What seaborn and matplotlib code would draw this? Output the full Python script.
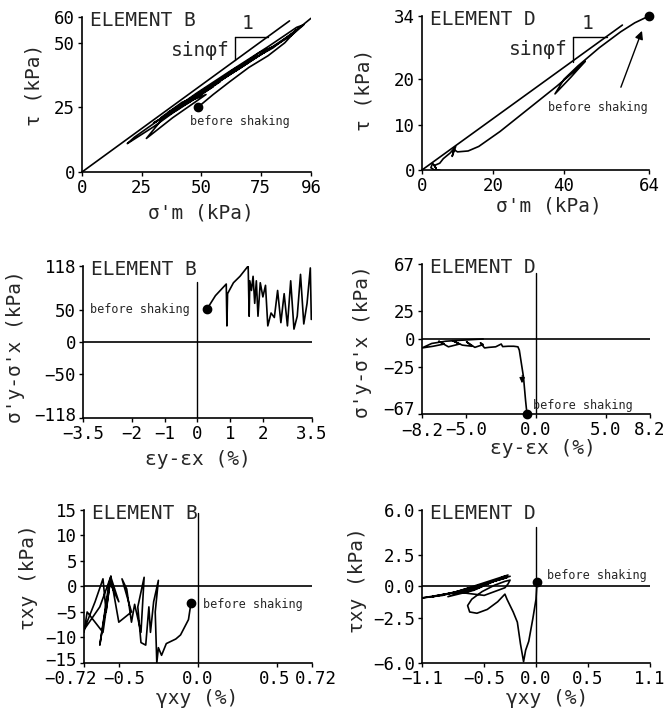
import matplotlib
matplotlib.use('Agg')
import matplotlib.pyplot as plt
import matplotlib.transforms as mtransforms
import seaborn as sns

sns.set_theme(style='ticks')
plt.rcParams['font.family'] = ['DejaVu Sans Mono', 'DejaVu Sans']

# ---- data ----
# element B, stress path (sigma'm, tau)
b_fail_x = [0, 87]
b_fail_y = [0, 58.5]
b_path_x = [48.5, 55, 62, 70, 78, 85, 90, 88, 75, 60, 45, 32, 22, 19, 30, 45, 60, 75, 88,
            93, 90, 78, 62, 48, 35, 27, 38, 52, 44, 30, 40, 55, 48, 36, 50, 42, 33, 45, 58,
            52, 40, 47, 60, 70, 64, 55, 66, 80, 74, 68, 80, 92, 96]
b_path_y = [25, 30, 35, 40.5, 45, 50, 55, 53.5, 45.5, 37, 28, 20, 13.5, 11, 17.5, 27.5, 36.5,
            45.5, 53, 57, 56, 48.5, 39, 30.5, 22, 13, 21, 30, 27, 19, 24, 33, 30, 23, 30,
            27, 21, 27, 35, 32.5, 25, 28.5, 36.5, 42.5, 40, 34, 40, 48.5, 46, 42, 48, 56.5,
            59.5]
b_start = (48.5, 25.2)

# element D, stress path
d_fail_x = [0, 56.5]
d_fail_y = [0, 32]
d_path_x = [64, 60, 56, 50, 44, 40, 37.5, 42, 46, 44, 38, 30, 22, 16, 13, 10, 9, 8.5, 9.5,
            8, 6, 5, 3.5, 4, 3, 2.5, 3.5, 5]
d_path_y = [34, 32.5, 30.5, 27, 23, 20, 16.8, 20.5, 24, 22.5, 18.5, 13.5, 8.5, 5.2, 4.2,
            4.0, 4.5, 3.0, 5.2, 3.8, 2.5, 1.5, 1.0, 0.3, 1.5, 0.5, 0, 0]
d_start = (64, 34)

# element B, deviator stress vs deviator strain
b_dev_x = [0.29, 0.55, 0.88, 0.9, 0.92, 1.1, 1.3, 1.55, 1.58, 1.6, 1.65, 1.7, 1.75, 1.8,
           1.85, 1.92, 2.0, 2.08, 2.15, 2.25, 2.35, 2.45, 2.55, 2.65, 2.75, 2.85, 2.95,
           3.05, 3.15, 3.25, 3.35, 3.45, 3.48]
b_dev_y = [51, 72, 90, 25, 75, 92, 102, 118, 40, 95, 80, 102, 60, 95, 40, 92, 70, 88, 25,
           45, 38, 80, 30, 75, 25, 95, 20, 40, 105, 28, 60, 115, 35]
b_dev_start = (0.29, 51)

# element D, deviator stress vs deviator strain
d_dev_x = [-0.65, -0.75, -0.9, -1.05, -1.2, -1.3, -1.6, -2.0, -2.4, -2.5, -2.9, -3.4, -3.7,
           -4.0, -3.8, -4.4, -5.0, -4.6, -5.3, -6.0, -5.5, -6.3, -7.0, -6.6, -7.4, -8.2,
           -7.5, -6.5, -5.5, -4.5, -3.8]
d_dev_y = [-67, -55, -34, -22, -10, -7, -6.5, -6.5, -6.8, -4.5, -7, -7.5, -8.0, -3.5, -5,
           -7.5, -2.5, -6.5, -5.5, -1.5, -4.5, -7, -2, -4.5, -6.5, -8.0, -4, -2, -1.2,
           -0.5, 0]
d_dev_start = (-0.65, -67)

# element B, shear stress vs shear strain
b_sh_x = [-0.044, -0.06, -0.11, -0.14, -0.2, -0.23, -0.25, -0.26, -0.27, -0.25, -0.28,
          -0.3, -0.31, -0.33, -0.36, -0.38, -0.34, -0.36, -0.4, -0.42, -0.45, -0.48, -0.42,
          -0.5, -0.55, -0.5, -0.56, -0.62, -0.55, -0.58, -0.6, -0.65, -0.72, -0.62, -0.55,
          -0.6, -0.7, -0.72]
b_sh_y = [-3.2, -6.5, -9.5, -10.3, -11.2, -13.5, -12, -15, -5, 1.2, -3, -9, -4, -11.5, -11,
          -4, 1.8, -9, -3.5, -7, -0.5, 1.5, -5, -7, 1.8, -3, 1, -11.5, 2, -5, 1.5, -3, -8.5,
          -4, 2, -9, -5, -9]
b_sh_start = (-0.044, -3.2)

# element D, shear stress vs shear strain
d_sh_x = [0.01, 0.0, -0.03, -0.07, -0.1, -0.12, -0.15, -0.18, -0.22, -0.28, -0.3, -0.37,
          -0.47, -0.57, -0.64, -0.66, -0.62, -0.52, -0.4, -0.3, -0.25, -0.27, -0.3, -0.5,
          -0.7, -0.55, -0.3, -0.6, -0.85, -0.5, -0.28, -0.7, -1.0, -0.6, -0.27, -0.8, -1.1,
          -0.9, -0.5, -0.25]
d_sh_y = [0.35, -1.0, -2.5, -4.3, -5.0, -5.9, -4.5, -2.8, -2.0, -1.0, -0.6, -1.2, -1.8,
          -2.1, -2.0, -1.5, -1.0, -0.4, 0.1, 0.4, 0.5, 0.2, -0.1, -0.7, -0.5, -0.1, 0.8,
          -0.3, -0.8, 0.2, 0.7, -0.3, -0.8, -0.2, 0.9, -0.5, -0.9, -0.7, 0.2, 0.8]
d_sh_start = (0.01, 0.35)

# ticks
p1_xt = [0, 25, 50, 75, 96]
p1_yt = [0, 25, 50, 60]
p2_xt = [0, 20, 40, 64]
p2_yt = [0, 10, 20, 34]
p3_xt = [-3.5, -2, -1, 0, 1, 2, 3.5]
p3_xl = ['−3.5', '−2', '−1', '0', '1', '2', '3.5']
p3_yt = [-118, -50, 0, 50, 118]
p4_xt = [-8.2, -5.0, 0.0, 5.0, 8.2]
p4_xl = ['−8.2', '−5.0', '0.0', '5.0', '8.2']
p4_yt = [-67, -25, 0, 25, 67]
p5_xt = [-0.72, -0.5, 0.0, 0.5, 0.72]
p5_xl = ['−0.72', '−0.5', '0.0', '0.5', '0.72']
p5_yt = [-15, -10, -5, 0, 5, 10, 15]
p6_xt = [-1.1, -0.5, 0.0, 0.5, 1.1]
p6_xl = ['−1.1', '−0.5', '0.0', '0.5', '1.1']
p6_yt = [-6.0, -2.5, 0.0, 2.5, 6.0]
p6_yl = ['−6.0', '−2.5', '0.0', '2.5', '6.0']

fig = plt.figure(figsize=(6.67, 7.24), dpi=100)
rects = [[0.1229, 0.7624, 0.3433, 0.2141], [0.6327, 0.7652, 0.3403, 0.2127],
         [0.1244, 0.4227, 0.3433, 0.2099], [0.6327, 0.4282, 0.3418, 0.2072],
         [0.1259, 0.0843, 0.3418, 0.2113], [0.6327, 0.0843, 0.3418, 0.2113]]
axs = [fig.add_axes(r) for r in rects]

LW = 1.2
TICK_FS = 12.5
LAB_FS = 14


def path(ax, x, y):
    sns.lineplot(x=x, y=y, sort=False, estimator=None, color='black', lw=LW, ax=ax)


def start(ax, pt):
    ax.plot([pt[0]], [pt[1]], 'o', color='black', ms=6, zorder=5, clip_on=False)


def style(ax, xlim, ylim, xt, yt, xl=None, yl=None):
    ax.set_xlim(xlim)
    ax.set_ylim(ylim)
    ax.set_xticks(xt)
    ax.set_yticks(yt)
    if xl is not None:
        ax.set_xticklabels(xl)
    if yl is not None:
        ax.set_yticklabels(yl)
    sns.despine(ax=ax)
    for s in ['left', 'bottom']:
        ax.spines[s].set_linewidth(1.2)
        ax.spines[s].set_color('black')
    ax.tick_params(direction='out', length=3, width=1, labelsize=TICK_FS, pad=2, colors='black')


def labels(ax, xlab, ylab, xpos, ypos):
    ax.set_xlabel(xlab, fontsize=LAB_FS)
    ax.set_ylabel(ylab, fontsize=LAB_FS)
    ax.xaxis.set_label_coords(*xpos)
    ax.yaxis.set_label_coords(*ypos)


def element(ax, name):
    ax.text(0.035, 0.975, name, transform=ax.transAxes, fontsize=LAB_FS, va='center', ha='left')


def nudge(lab, dx, dy):
    lab.set_transform(lab.get_transform()
                      + mtransforms.ScaledTranslation(dx / 100, dy / 100, fig.dpi_scale_trans))


# ---- panel 1 ----
ax = axs[0]
path(ax, b_fail_x, b_fail_y)
path(ax, b_path_x, b_path_y)
start(ax, b_start)
ax.plot([64.1, 78], [52.3, 52.3], color='black', lw=1)
ax.plot([64.1, 64.1], [52.3, 43.4], color='black', lw=1)
ax.text(69.6, 57.6, '1', fontsize=LAB_FS, ha='center', va='center')
ax.text(62, 47.2, 'sinφf', fontsize=LAB_FS, ha='right', va='center')
ax.text(45.3, 19.5, 'before shaking', fontsize=8.5, ha='left', va='center')
style(ax, (0, 96), (0, 60), p1_xt, p1_yt)
labels(ax, "σ'm (kPa)", 'τ (kPa)', (0.52, -0.2), (-0.17, 0.56))
element(ax, 'ELEMENT B')

# ---- panel 2 ----
ax = axs[1]
path(ax, d_fail_x, d_fail_y)
path(ax, d_path_x, d_path_y)
start(ax, d_start)
ax.plot([42.6, 52.1], [29.4, 29.4], color='black', lw=1)
ax.plot([42.6, 42.6], [29.4, 23.9], color='black', lw=1)
ax.text(46.8, 32.4, '1', fontsize=LAB_FS, ha='center', va='center')
ax.text(41.2, 26.5, 'sinφf', fontsize=LAB_FS, ha='right', va='center')
ax.text(35.5, 13.7, 'before shaking', fontsize=8.5, ha='left', va='center')
ax.annotate('', xy=(62.3, 31.3), xytext=(55.8, 17.7),
            arrowprops=dict(arrowstyle='-|>', color='black', lw=1))
style(ax, (0, 64), (0, 34), p2_xt, p2_yt)
labels(ax, "σ'm (kPa)", 'τ (kPa)', (0.56, -0.17), (-0.215, 0.52))
element(ax, 'ELEMENT D')

# ---- panel 3 ----
ax = axs[2]
ax.axhline(0, color='black', lw=LW)
ax.plot([0, 0], [-118, 93], color='black', lw=1)
path(ax, b_dev_x, b_dev_y)
start(ax, b_dev_start)
ax.text(-0.23, 51, 'before shaking', fontsize=8.5, ha='right', va='center')
style(ax, (-3.5, 3.5), (-118, 118), p3_xt, p3_yt, xl=p3_xl)
labels(ax, 'εy-εx (%)', "σ'y-σ'x (kPa)", (0.5, -0.21), (-0.253, 0.47))
element(ax, 'ELEMENT B')
nudge(ax.get_yticklabels()[0], 0, 4)

# ---- panel 4 ----
ax = axs[3]
ax.axhline(0, color='black', lw=LW)
ax.plot([0, 0], [-67, 59], color='black', lw=1)
path(ax, d_dev_x, d_dev_y)
start(ax, d_dev_start)
ax.annotate('', xy=(-1.02, -42), xytext=(-0.98, -30),
            arrowprops=dict(arrowstyle='-|>', color='black', lw=0.8, mutation_scale=8))
ax.text(-0.22, -59, 'before shaking', fontsize=8.5, ha='left', va='center')
style(ax, (-8.2, 8.2), (-67, 67), p4_xt, p4_yt, xl=p4_xl)
labels(ax, 'εy-εx (%)', "σ'y-σ'x (kPa)", (0.53, -0.17), (-0.22, 0.48))
element(ax, 'ELEMENT D')
nudge(ax.get_yticklabels()[0], 0, 6)
nudge(ax.get_xticklabels()[0], 0, -1)

# ---- panel 5 ----
ax = axs[4]
ax.axhline(0, color='black', lw=LW)
ax.plot([0, 0], [-15, 14.5], color='black', lw=1)
path(ax, b_sh_x, b_sh_y)
start(ax, b_sh_start)
ax.text(0.03, -3.6, 'before shaking', fontsize=8.5, ha='left', va='center')
style(ax, (-0.72, 0.72), (-15, 15), p5_xt, p5_yt, xl=p5_xl)
labels(ax, 'γxy (%)', 'τxy (kPa)', (0.495, -0.17), (-0.2, 0.56))
element(ax, 'ELEMENT B')
for lab, dx in zip(ax.get_xticklabels(), [-13, 5, 0, -3, 4]):
    nudge(lab, dx, 0)
nudge(ax.get_yticklabels()[0], 0, 4)

# ---- panel 6 ----
ax = axs[5]
ax.axhline(0, color='black', lw=LW)
ax.plot([0, 0], [-6, 4.7], color='black', lw=1)
path(ax, d_sh_x, d_sh_y)
start(ax, d_sh_start)
ax.text(0.103, 0.9, 'before shaking', fontsize=8.5, ha='left', va='center')
style(ax, (-1.1, 1.1), (-6, 6), p6_xt, p6_yt, xl=p6_xl, yl=p6_yl)
labels(ax, 'γxy (%)', 'τxy (kPa)', (0.55, -0.17), (-0.24, 0.54))
element(ax, 'ELEMENT D')

fig.savefig('out.png', dpi=100, facecolor='white')
